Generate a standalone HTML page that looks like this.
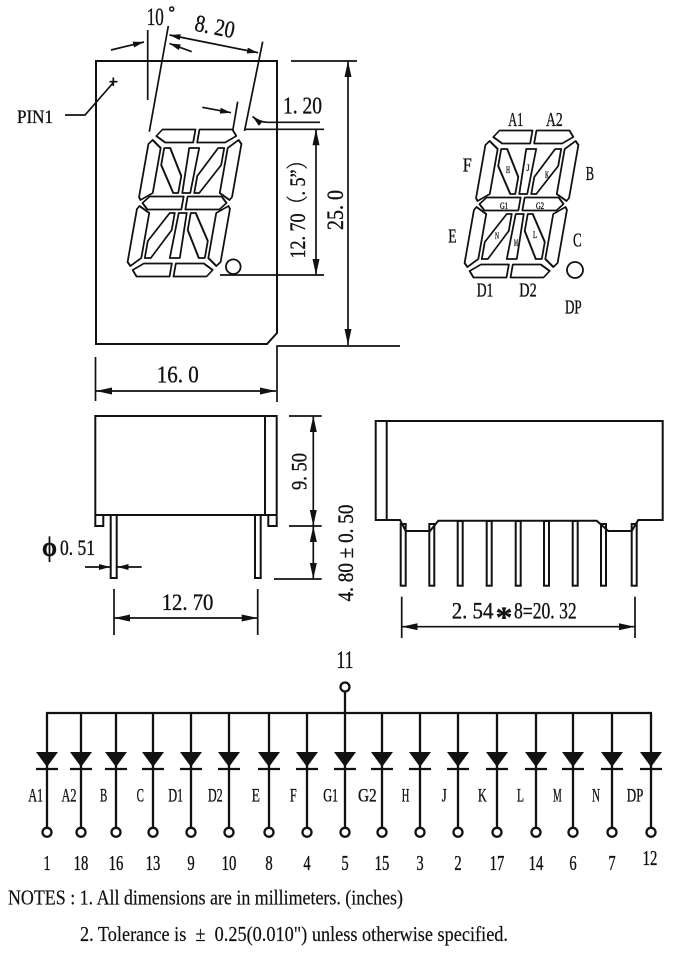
<!DOCTYPE html>
<html><head><meta charset="utf-8"><style>
html,body{margin:0;padding:0;background:#fff;}
svg{display:block;}
text{font-family:"Liberation Serif","Noto Serif CJK SC",serif;fill:#111;stroke:#111;stroke-width:0.35;}
</style></head><body>
<svg width="678" height="963" viewBox="0 0 678 963" xmlns="http://www.w3.org/2000/svg">
<defs>
<marker id="a" viewBox="0 0 16 7" refX="16" refY="3.5" markerWidth="16" markerHeight="7" markerUnits="userSpaceOnUse" orient="auto-start-reverse"><path d="M0,0 L16,3.5 L0,7z" fill="#111"/></marker>
<marker id="s" viewBox="0 0 11 6" refX="11" refY="3" markerWidth="11" markerHeight="6" markerUnits="userSpaceOnUse" orient="auto-start-reverse"><path d="M0,0 L11,3 L0,6z" fill="#111"/></marker>
<g id="dg" fill="#fff" stroke="#111" stroke-width="1.8" stroke-linejoin="round">
<polygon points="-40,-67 -35,-73.5 -2,-73.5 -2,-60.5 -30,-60.5"/>
<polygon points="2,-73.5 35,-73.5 40,-67 30,-60.5 2,-60.5"/>
<polygon points="43,-63 46.5,-59 46.5,-6 44.5,-3 33.5,-10 33.5,-55"/>
<polygon points="43,63 46.5,59 46.5,6 44.5,3 33.5,10 33.5,55"/>
<polygon points="-40,67 -35,73.5 -2,73.5 -2,60.5 -30,60.5"/>
<polygon points="2,73.5 35,73.5 40,67 30,60.5 2,60.5"/>
<polygon points="-43,63 -46.5,59 -46.5,6 -44.5,3 -33.5,10 -33.5,55"/>
<polygon points="-43,-63 -46.5,-59 -46.5,-6 -44.5,-3 -33.5,-10 -33.5,-55"/>
<polygon points="-42,0 -36,-6.5 -2,-6.5 -2,6.5 -36,6.5"/>
<polygon points="2,-6.5 36,-6.5 42,0 36,6.5 2,6.5"/>
<polygon points="-30,-55 -24,-55 -8,-27 -8,-10 -13,-10 -30,-38"/>
<polygon points="-5,-55 5,-55 4,-10 -4,-10"/>
<polygon points="30,-55 24,-55 8,-27 8,-10 13,-10 30,-38"/>
<polygon points="30,55 24,55 8,27 8,10 13,10 30,38"/>
<polygon points="-5,55 5,55 4,10 -4,10"/>
<polygon points="-30,55 -24,55 -8,27 -8,10 -13,10 -30,38"/>
</g>
</defs>
<rect width="678" height="963" fill="#fff"/>

<!-- ===== Top view ===== -->
<g fill="none" stroke="#111" stroke-width="2">
<polygon points="96,61 277,61 277,333 267,344 96,344"/>
</g>
<g fill="none" stroke="#111" stroke-width="1.7">
<line x1="147.7" y1="30" x2="147.7" y2="100"/>
<line x1="111" y1="50" x2="144" y2="42" marker-end="url(#s)"/>
<line x1="168.3" y1="26" x2="149.3" y2="131.7"/>
<line x1="191.7" y1="51.7" x2="169.5" y2="43.5" marker-end="url(#s)"/>
<line x1="169.5" y1="35" x2="258" y2="52.7" marker-start="url(#s)" marker-end="url(#s)"/>
<line x1="262.7" y1="41.7" x2="244.5" y2="131"/>
<line x1="237.7" y1="101.7" x2="232.5" y2="132"/>
<line x1="202.3" y1="107.3" x2="231" y2="112.7" marker-end="url(#s)"/>
<path d="M320,122.3 L267,122.3 Q259,122 252.5,116.5" marker-end="url(#s)"/>
<line x1="245" y1="129.3" x2="324" y2="129.3"/>
<line x1="220" y1="275" x2="324" y2="275"/>
<line x1="316" y1="129.3" x2="316" y2="275" marker-start="url(#a)" marker-end="url(#a)"/>
<line x1="291" y1="61" x2="357" y2="61"/>
<polyline points="400,346 277,346 277,402"/>
<line x1="348" y1="61" x2="348" y2="345" marker-start="url(#a)" marker-end="url(#a)"/>
<polyline points="65,115 85,115 113,83"/>
<line x1="109.5" y1="81.7" x2="117.5" y2="81.7"/>
<line x1="113.3" y1="77.5" x2="113.3" y2="86"/>
<line x1="95.5" y1="357" x2="95.5" y2="401"/>
<line x1="96" y1="391" x2="276" y2="391" marker-start="url(#a)" marker-end="url(#a)"/>
</g>
<circle cx="171.7" cy="9" r="2" fill="none" stroke="#111" stroke-width="1.5"/>

<use href="#dg" transform="translate(184.5,203) skewX(-10)"/>
<circle cx="233.3" cy="266.7" r="7.3" fill="#fff" stroke="#111" stroke-width="1.8"/>

<text x="146.7" y="25" font-size="25" textLength="17" lengthAdjust="spacingAndGlyphs">10</text>
<text transform="translate(215,26) rotate(11)" x="0" y="8.5" font-size="24" text-anchor="middle" textLength="40" lengthAdjust="spacingAndGlyphs">8. 20</text>
<text x="283" y="113.3" font-size="24" textLength="39" lengthAdjust="spacingAndGlyphs">1. 20</text>
<text x="17" y="123" font-size="19" textLength="36" lengthAdjust="spacingAndGlyphs">PIN1</text>
<text transform="translate(343,210) rotate(-90)" x="0" y="0" font-size="23" text-anchor="middle" textLength="40" lengthAdjust="spacingAndGlyphs">25. 0</text>
<text transform="translate(305,205) rotate(-90)" x="0" y="0" font-size="22" text-anchor="middle" textLength="107" lengthAdjust="spacingAndGlyphs">12. 70（. 5”）</text>
<text x="156.7" y="382.7" font-size="24" textLength="42" lengthAdjust="spacingAndGlyphs">16. 0</text>

<!-- ===== Right digit diagram ===== -->
<use href="#dg" transform="translate(521.5,204) skewX(-10)"/>
<circle cx="575" cy="270" r="8" fill="#fff" stroke="#111" stroke-width="1.8"/>
<g font-size="20">
<text x="508.3" y="126" textLength="15" lengthAdjust="spacingAndGlyphs">A1</text>
<text x="546" y="126" textLength="16.7" lengthAdjust="spacingAndGlyphs">A2</text>
<text x="462.7" y="171.7" textLength="9" lengthAdjust="spacingAndGlyphs">F</text>
<text x="585.7" y="180" textLength="8.3" lengthAdjust="spacingAndGlyphs">B</text>
<text x="448.3" y="242.7" textLength="8.4" lengthAdjust="spacingAndGlyphs">E</text>
<text x="573" y="246.7" textLength="8.7" lengthAdjust="spacingAndGlyphs">C</text>
<text x="476.7" y="296.7" textLength="16.6" lengthAdjust="spacingAndGlyphs">D1</text>
<text x="519.3" y="296.7" textLength="17.4" lengthAdjust="spacingAndGlyphs">D2</text>
<text x="565" y="313.3" textLength="16.7" lengthAdjust="spacingAndGlyphs">DP</text>
</g>
<g font-size="9" text-anchor="middle" style="stroke-width:0.2">
<text x="508" y="173" textLength="4" lengthAdjust="spacingAndGlyphs">H</text>
<text x="528" y="171" textLength="3" lengthAdjust="spacingAndGlyphs">J</text>
<text x="547" y="178" textLength="4" lengthAdjust="spacingAndGlyphs">K</text>
<text x="504" y="209" textLength="8" lengthAdjust="spacingAndGlyphs">G1</text>
<text x="540" y="209" textLength="8" lengthAdjust="spacingAndGlyphs">G2</text>
<text x="497" y="239" textLength="4" lengthAdjust="spacingAndGlyphs">N</text>
<text x="516" y="246" textLength="4" lengthAdjust="spacingAndGlyphs">M</text>
<text x="535" y="238" textLength="4" lengthAdjust="spacingAndGlyphs">L</text>
</g>

<!-- ===== Front side view ===== -->
<g fill="none" stroke="#111" stroke-width="2">
<path d="M95.3,526 V416 H276.7 V526 H268.3 V515 H103.3 V526 Z"/>
<line x1="95.3" y1="515" x2="276.7" y2="515"/>
<line x1="265" y1="416" x2="265" y2="515"/>
<rect x="110.7" y="515" width="6" height="63"/>
<rect x="255" y="515" width="5.7" height="63"/>
</g>
<g fill="none" stroke="#111" stroke-width="1.7">
<line x1="85" y1="567" x2="110" y2="567" marker-end="url(#s)"/>
<line x1="141.7" y1="567" x2="117.5" y2="567" marker-end="url(#s)"/>
<line x1="114" y1="589" x2="114" y2="635"/>
<line x1="257.7" y1="589" x2="257.7" y2="635"/>
<line x1="114" y1="618" x2="257.7" y2="618" marker-start="url(#a)" marker-end="url(#a)"/>
<line x1="289" y1="416" x2="321.7" y2="416"/>
<line x1="289" y1="526" x2="321.7" y2="526"/>
<line x1="274" y1="579" x2="321.7" y2="579"/>
<line x1="313.3" y1="416" x2="313.3" y2="526" marker-start="url(#a)" marker-end="url(#a)"/>
<line x1="313.3" y1="526" x2="313.3" y2="579" marker-start="url(#a)" marker-end="url(#a)"/>
</g>
<text x="42" y="556" font-size="27" font-weight="bold" textLength="15" lengthAdjust="spacingAndGlyphs">ϕ</text>
<text x="60" y="555" font-size="22" textLength="35" lengthAdjust="spacingAndGlyphs">0. 51</text>
<text x="161.7" y="610" font-size="23" textLength="51.7" lengthAdjust="spacingAndGlyphs">12. 70</text>
<text transform="translate(306.7,471.5) rotate(-90)" x="0" y="0" font-size="22" text-anchor="middle" textLength="37" lengthAdjust="spacingAndGlyphs">9. 50</text>
<text transform="translate(353,553) rotate(-90)" x="0" y="0" font-size="22" text-anchor="middle" textLength="97" lengthAdjust="spacingAndGlyphs">4. 80 ± 0. 50</text>

<!-- ===== Right side view ===== -->
<g fill="#fff" stroke="#111" stroke-width="2">
<rect x="400.7" y="524" width="5" height="61.7"/>
<rect x="429.3" y="524" width="5" height="61.7"/>
<rect x="457.7" y="521" width="5" height="64.7"/>
<rect x="486.7" y="521" width="5" height="64.7"/>
<rect x="515.7" y="521" width="5" height="64.7"/>
<rect x="544" y="521" width="5" height="64.7"/>
<rect x="572.7" y="521" width="5" height="64.7"/>
<rect x="601" y="524" width="5" height="61.7"/>
<rect x="631.7" y="524" width="5" height="61.7"/>
</g>
<g fill="none" stroke="#111" stroke-width="2">
<path d="M375.7,421 H662.7 V520 H638.3 L631.7,531 H608.3 L596.7,520.7 H438.3 L430,531 H405.7 L400,520 H375.7 Z"/>
<line x1="386.7" y1="421" x2="386.7" y2="520"/>
</g>
<g fill="none" stroke="#111" stroke-width="1.7">
<line x1="401.7" y1="596.7" x2="401.7" y2="638"/>
<line x1="635" y1="596.7" x2="635" y2="638"/>
<line x1="401.7" y1="626.7" x2="635" y2="626.7" marker-start="url(#a)" marker-end="url(#a)"/>
</g>
<text x="451.7" y="618.3" font-size="23" textLength="41.7" lengthAdjust="spacingAndGlyphs">2. 54</text>
<text x="495.5" y="627" font-size="30" font-weight="bold" textLength="17" lengthAdjust="spacingAndGlyphs">*</text>
<text x="514" y="618.3" font-size="23" textLength="62.7" lengthAdjust="spacingAndGlyphs">8=20. 32</text>

<!-- ===== Schematic ===== -->
<text x="345" y="668" font-size="25" text-anchor="middle" textLength="17" lengthAdjust="spacingAndGlyphs">11</text>
<g stroke="#111" stroke-width="2.3" fill="none">
<circle cx="345" cy="687" r="4.5"/>
<line x1="345" y1="691.5" x2="345" y2="713"/>
<line x1="46" y1="713" x2="652" y2="713"/>
</g>
<g stroke="#111" stroke-width="2.3">
<g transform="translate(47,0)"><line x1="0" y1="713" x2="0" y2="827.5"/><polygon points="-11,752 11,752 0,767" fill="#111" stroke="none"/><line x1="-11" y1="769" x2="11" y2="769"/><circle cx="0" cy="832.3" r="4.5" fill="#fff"/></g>
<g transform="translate(81,0)"><line x1="0" y1="713" x2="0" y2="827.5"/><polygon points="-11,752 11,752 0,767" fill="#111" stroke="none"/><line x1="-11" y1="769" x2="11" y2="769"/><circle cx="0" cy="832.3" r="4.5" fill="#fff"/></g>
<g transform="translate(116,0)"><line x1="0" y1="713" x2="0" y2="827.5"/><polygon points="-11,752 11,752 0,767" fill="#111" stroke="none"/><line x1="-11" y1="769" x2="11" y2="769"/><circle cx="0" cy="832.3" r="4.5" fill="#fff"/></g>
<g transform="translate(153,0)"><line x1="0" y1="713" x2="0" y2="827.5"/><polygon points="-11,752 11,752 0,767" fill="#111" stroke="none"/><line x1="-11" y1="769" x2="11" y2="769"/><circle cx="0" cy="832.3" r="4.5" fill="#fff"/></g>
<g transform="translate(191,0)"><line x1="0" y1="713" x2="0" y2="827.5"/><polygon points="-11,752 11,752 0,767" fill="#111" stroke="none"/><line x1="-11" y1="769" x2="11" y2="769"/><circle cx="0" cy="832.3" r="4.5" fill="#fff"/></g>
<g transform="translate(229,0)"><line x1="0" y1="713" x2="0" y2="827.5"/><polygon points="-11,752 11,752 0,767" fill="#111" stroke="none"/><line x1="-11" y1="769" x2="11" y2="769"/><circle cx="0" cy="832.3" r="4.5" fill="#fff"/></g>
<g transform="translate(269,0)"><line x1="0" y1="713" x2="0" y2="827.5"/><polygon points="-11,752 11,752 0,767" fill="#111" stroke="none"/><line x1="-11" y1="769" x2="11" y2="769"/><circle cx="0" cy="832.3" r="4.5" fill="#fff"/></g>
<g transform="translate(307,0)"><line x1="0" y1="713" x2="0" y2="827.5"/><polygon points="-11,752 11,752 0,767" fill="#111" stroke="none"/><line x1="-11" y1="769" x2="11" y2="769"/><circle cx="0" cy="832.3" r="4.5" fill="#fff"/></g>
<g transform="translate(345,0)"><line x1="0" y1="713" x2="0" y2="827.5"/><polygon points="-11,752 11,752 0,767" fill="#111" stroke="none"/><line x1="-11" y1="769" x2="11" y2="769"/><circle cx="0" cy="832.3" r="4.5" fill="#fff"/></g>
<g transform="translate(382,0)"><line x1="0" y1="713" x2="0" y2="827.5"/><polygon points="-11,752 11,752 0,767" fill="#111" stroke="none"/><line x1="-11" y1="769" x2="11" y2="769"/><circle cx="0" cy="832.3" r="4.5" fill="#fff"/></g>
<g transform="translate(420,0)"><line x1="0" y1="713" x2="0" y2="827.5"/><polygon points="-11,752 11,752 0,767" fill="#111" stroke="none"/><line x1="-11" y1="769" x2="11" y2="769"/><circle cx="0" cy="832.3" r="4.5" fill="#fff"/></g>
<g transform="translate(458,0)"><line x1="0" y1="713" x2="0" y2="827.5"/><polygon points="-11,752 11,752 0,767" fill="#111" stroke="none"/><line x1="-11" y1="769" x2="11" y2="769"/><circle cx="0" cy="832.3" r="4.5" fill="#fff"/></g>
<g transform="translate(497,0)"><line x1="0" y1="713" x2="0" y2="827.5"/><polygon points="-11,752 11,752 0,767" fill="#111" stroke="none"/><line x1="-11" y1="769" x2="11" y2="769"/><circle cx="0" cy="832.3" r="4.5" fill="#fff"/></g>
<g transform="translate(536,0)"><line x1="0" y1="713" x2="0" y2="827.5"/><polygon points="-11,752 11,752 0,767" fill="#111" stroke="none"/><line x1="-11" y1="769" x2="11" y2="769"/><circle cx="0" cy="832.3" r="4.5" fill="#fff"/></g>
<g transform="translate(573,0)"><line x1="0" y1="713" x2="0" y2="827.5"/><polygon points="-11,752 11,752 0,767" fill="#111" stroke="none"/><line x1="-11" y1="769" x2="11" y2="769"/><circle cx="0" cy="832.3" r="4.5" fill="#fff"/></g>
<g transform="translate(612,0)"><line x1="0" y1="713" x2="0" y2="827.5"/><polygon points="-11,752 11,752 0,767" fill="#111" stroke="none"/><line x1="-11" y1="769" x2="11" y2="769"/><circle cx="0" cy="832.3" r="4.5" fill="#fff"/></g>
<g transform="translate(651,0)"><line x1="0" y1="713" x2="0" y2="827.5"/><polygon points="-11,752 11,752 0,767" fill="#111" stroke="none"/><line x1="-11" y1="769" x2="11" y2="769"/><circle cx="0" cy="832.3" r="4.5" fill="#fff"/></g>
</g>
<g font-size="19" text-anchor="middle">
<text x="35.7" y="801.7" textLength="15" lengthAdjust="spacingAndGlyphs">A1</text>
<text x="69" y="801.7" textLength="15" lengthAdjust="spacingAndGlyphs">A2</text>
<text x="103.7" y="801.7" textLength="7.3" lengthAdjust="spacingAndGlyphs">B</text>
<text x="140.3" y="801.7" textLength="7.3" lengthAdjust="spacingAndGlyphs">C</text>
<text x="175.7" y="801.7" textLength="15" lengthAdjust="spacingAndGlyphs">D1</text>
<text x="215.3" y="801.7" textLength="14.7" lengthAdjust="spacingAndGlyphs">D2</text>
<text x="255.8" y="801.7" textLength="8.3" lengthAdjust="spacingAndGlyphs">E</text>
<text x="293.3" y="801.7" textLength="6.7" lengthAdjust="spacingAndGlyphs">F</text>
<text x="330.7" y="801.7" textLength="15" lengthAdjust="spacingAndGlyphs">G1</text>
<text x="367.3" y="801.7" textLength="18.7" lengthAdjust="spacingAndGlyphs">G2</text>
<text x="405.5" y="801.7" textLength="7.6" lengthAdjust="spacingAndGlyphs">H</text>
<text x="444.2" y="801.7" textLength="5" lengthAdjust="spacingAndGlyphs">J</text>
<text x="482.3" y="801.7" textLength="8.7" lengthAdjust="spacingAndGlyphs">K</text>
<text x="520.5" y="801.7" textLength="7" lengthAdjust="spacingAndGlyphs">L</text>
<text x="557.3" y="801.7" textLength="8.7" lengthAdjust="spacingAndGlyphs">M</text>
<text x="596" y="801.7" textLength="8" lengthAdjust="spacingAndGlyphs">N</text>
<text x="635" y="801.7" textLength="16.6" lengthAdjust="spacingAndGlyphs">DP</text>
</g>
<g font-size="21" text-anchor="middle">
<text x="47" y="870" textLength="7.3" lengthAdjust="spacingAndGlyphs">1</text>
<text x="81" y="870" textLength="14.7" lengthAdjust="spacingAndGlyphs">18</text>
<text x="116" y="870" textLength="14.7" lengthAdjust="spacingAndGlyphs">16</text>
<text x="153" y="870" textLength="14.7" lengthAdjust="spacingAndGlyphs">13</text>
<text x="191" y="870" textLength="7.3" lengthAdjust="spacingAndGlyphs">9</text>
<text x="229" y="870" textLength="14.7" lengthAdjust="spacingAndGlyphs">10</text>
<text x="269" y="870" textLength="7.3" lengthAdjust="spacingAndGlyphs">8</text>
<text x="307" y="870" textLength="7.3" lengthAdjust="spacingAndGlyphs">4</text>
<text x="345" y="870" textLength="7.3" lengthAdjust="spacingAndGlyphs">5</text>
<text x="382" y="870" textLength="14.7" lengthAdjust="spacingAndGlyphs">15</text>
<text x="420" y="870" textLength="7.3" lengthAdjust="spacingAndGlyphs">3</text>
<text x="458" y="870" textLength="7.3" lengthAdjust="spacingAndGlyphs">2</text>
<text x="497" y="870" textLength="14.7" lengthAdjust="spacingAndGlyphs">17</text>
<text x="536" y="870" textLength="14.7" lengthAdjust="spacingAndGlyphs">14</text>
<text x="573" y="870" textLength="7.3" lengthAdjust="spacingAndGlyphs">6</text>
<text x="612" y="870" textLength="7.3" lengthAdjust="spacingAndGlyphs">7</text>
<text x="650" y="865" textLength="14.7" lengthAdjust="spacingAndGlyphs">12</text>
</g>

<!-- ===== Notes ===== -->
<text x="8" y="904.5" font-size="21" textLength="395" lengthAdjust="spacingAndGlyphs" style="white-space:pre;stroke-width:0.2">NOTES : 1. All dimensions are in millimeters. (inches)</text>
<text x="80" y="941" font-size="21" textLength="428" lengthAdjust="spacingAndGlyphs" style="white-space:pre;stroke-width:0.2">2. Tolerance is  ±  0.25(0.010") unless otherwise specified.</text>
</svg>
</body></html>
